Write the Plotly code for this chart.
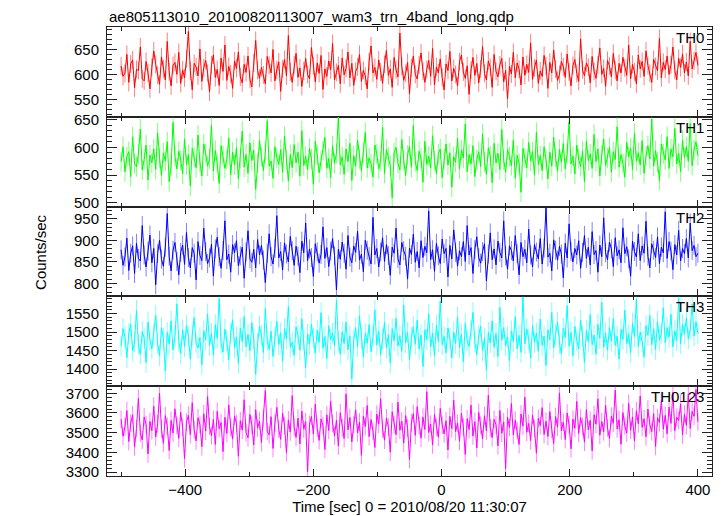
import plotly.graph_objects as go
from plotly.subplots import make_subplots

title_text = "ae805113010_20100820113007_wam3_trn_4band_long.qdp"
x_title = "Time [sec] 0 = 2010/08/20 11:30:07"
y_title = "Counts/sec"
band_names = ["TH0", "TH1", "TH2", "TH3", "TH0123"]
t_start = -500
t_end = 400

th0 = [618, 597, 603, 641, 585, 622, 630, 574, 611, 609, 656, 592, 588, 627, 604,
       572, 615, 648, 621, 599, 581, 636, 612, 590, 667, 606, 578, 619, 625, 601,
       645, 583, 610, 594, 632, 687, 608, 570, 623, 616, 598, 652, 587, 614, 629,
       603, 566, 620, 640, 595, 611, 579, 634, 607, 660, 589, 617, 602, 573, 628,
       613, 646, 596, 584, 621, 605, 638, 591, 576, 624, 669, 609, 593, 615, 600,
       582, 637, 619, 604, 651, 588, 610, 626, 567, 612, 631, 598, 679, 606, 585,
       620, 643, 595, 614, 577, 608, 633, 601, 592, 655, 618, 586, 624, 603, 639,
       571, 612, 597, 628, 610, 663, 590, 605, 619, 582, 634, 600, 613, 646, 594,
       623, 579, 607, 616, 641, 587, 609, 598, 572, 627, 658, 604, 615, 591, 630,
       606, 583, 621, 649, 599, 612, 575, 635, 610, 596, 684, 617, 589, 603, 625,
       562, 614, 638, 601, 592, 620, 644, 607, 585, 611, 629, 597, 653, 580, 616,
       604, 632, 595, 570, 622, 609, 647, 588, 613, 601, 578, 626, 640, 606, 593,
       618, 561, 610, 635, 599, 623, 584, 612, 657, 603, 590, 628, 615, 575, 641,
       607, 596, 620, 633, 586, 609, 552, 617, 602, 645, 594, 624, 611, 580, 636,
       599, 621, 605, 664, 591, 614, 630, 583, 608, 597, 639, 618, 573, 625, 604,
       650, 612, 589, 601, 627, 616, 595, 642, 606, 578, 619, 631, 603, 587, 672,
       610, 598, 624, 615, 584, 637, 607, 593, 620, 654, 601, 613, 577, 629, 618,
       596, 643, 609, 588, 623, 604, 635, 614, 599, 660, 592, 621, 606, 582, 640,
       612, 627, 597, 648, 619, 603, 585, 631, 617, 608, 673, 594, 625, 611, 638,
       601, 620, 656, 609, 590, 633, 615, 642, 604, 626, 598, 667, 612, 628, 645,
       619]

th1 = [574, 601, 556, 583, 592, 547, 619, 570, 565, 588, 633, 559, 578, 604, 541,
       586, 572, 597, 560, 626, 581, 549, 590, 575, 610, 538, 567, 645, 584, 561,
       593, 577, 552, 615, 569, 587, 530, 598, 582, 563, 622, 573, 548, 606, 589,
       566, 579, 640, 557, 594, 571, 535, 603, 585, 562, 578, 617, 550, 591, 568,
       599, 543, 580, 629, 564, 587, 553, 608, 576, 595, 524, 571, 612, 583, 558,
       590, 648, 566, 575, 544, 601, 581, 569, 596, 555, 620, 578, 539, 587, 563,
       605, 572, 591, 548, 630, 567, 584, 560, 598, 579, 533, 611, 586, 554, 576,
       594, 618, 562, 580, 545, 603, 571, 589, 655, 568, 583, 551, 597, 574, 607,
       540, 585, 566, 613, 579, 557, 592, 627, 563, 581, 570, 546, 604, 588, 561,
       575, 636, 553, 596, 582, 567, 509, 590, 600, 571, 559, 614, 577, 549, 586,
       602, 564, 639, 574, 558, 593, 580, 537, 611, 569, 584, 563, 621, 576, 552,
       588, 597, 545, 579, 606, 568, 590, 528, 583, 573, 616, 561, 595, 581, 642,
       556, 587, 570, 603, 547, 578, 592, 565, 624, 574, 551, 599, 584, 536, 607,
       572, 589, 560, 632, 577, 555, 596, 583, 567, 613, 544, 586, 571, 519, 598,
       580, 563, 609, 575, 592, 550, 627, 569, 585, 558, 601, 578, 543, 591, 566,
       618, 582, 557, 596, 573, 607, 561, 589, 646, 570, 584, 552, 604, 579, 565,
       593, 538, 611, 576, 588, 562, 623, 574, 597, 548, 586, 615, 567, 581, 600,
       555, 592, 578, 637, 564, 587, 571, 546, 609, 583, 598, 560, 625, 575, 590,
       568, 612, 553, 584, 603, 579, 651, 566, 594, 573, 540, 606, 588, 577, 619,
       562, 597, 583, 634, 570, 589, 556, 613, 581, 601, 575, 643, 567, 596, 610,
       585]

th2 = [878, 842, 861, 905, 830, 870, 887, 823, 893, 858, 852, 934, 866, 838, 875,
       912, 848, 881, 797, 869, 900, 856, 840, 884, 962, 863, 829, 877, 895, 851,
       820, 872, 889, 844, 918, 860, 836, 883, 870, 808, 897, 865, 853, 928, 874,
       846, 859, 891, 817, 880, 907, 862, 835, 876, 945, 855, 868, 826, 890, 871,
       899, 841, 864, 884, 812, 873, 922, 857, 849, 879, 836, 902, 866, 888, 854,
       802, 870, 915, 862, 845, 881, 957, 859, 874, 831, 894, 868, 850, 909, 876,
       842, 886, 863, 825, 898, 871, 940, 853, 880, 860, 816, 892, 873, 847, 867,
       931, 858, 883, 839, 875, 904, 864, 785, 879, 856, 896, 870, 833, 911, 861,
       848, 887, 872, 921, 854, 868, 827, 900, 877, 862, 845, 953, 866, 881, 838,
       873, 906, 851, 890, 865, 819, 884, 870, 928, 857, 843, 895, 876, 863, 810,
       882, 867, 914, 849, 874, 836, 899, 860, 886, 871, 968, 855, 878, 828, 893,
       864, 846, 903, 869, 881, 815, 888, 857, 924, 872, 840, 876, 862, 897, 851,
       934, 866, 883, 823, 879, 908, 860, 847, 874, 892, 806, 868, 917, 855, 880,
       843, 898, 872, 859, 945, 864, 833, 887, 876, 852, 911, 869, 820, 895, 862,
       879, 848, 926, 866, 838, 890, 873, 857, 904, 845, 882, 975, 861, 870, 829,
       901, 877, 854, 886, 868, 813, 893, 859, 938, 874, 850, 881, 866, 899, 835,
       872, 911, 858, 884, 843, 920, 867, 876, 826, 889, 862, 952, 871, 855, 896,
       880, 839, 906, 864, 878, 848, 929, 869, 885, 857, 817, 898, 874, 861, 915,
       853, 887, 870, 944, 863, 836, 892, 877, 860, 908, 846, 884, 871, 966, 858,
       897, 875, 832, 890, 866, 923, 852, 881, 869, 904, 859, 940, 876, 888, 862,
       870]

th3 = [1462, 1509, 1487, 1431, 1496, 1521, 1449, 1473, 1558, 1466, 1440, 1501, 1484, 1418, 1527,
       1478, 1455, 1493, 1545, 1470, 1436, 1512, 1482, 1395, 1499, 1468, 1530, 1452, 1489, 1576,
       1475, 1442, 1506, 1461, 1518, 1488, 1427, 1492, 1539, 1471, 1457, 1485, 1412, 1503, 1479,
       1549, 1464, 1496, 1438, 1520, 1483, 1590, 1469, 1446, 1508, 1476, 1425, 1497, 1533, 1458,
       1487, 1415, 1511, 1474, 1542, 1460, 1494, 1449, 1525, 1481, 1386, 1470, 1516, 1491, 1445,
       1563, 1477, 1453, 1502, 1434, 1486, 1529, 1466, 1498, 1421, 1509, 1482, 1569, 1459, 1473,
       1437, 1514, 1490, 1451, 1536, 1478, 1404, 1495, 1467, 1521, 1484, 1443, 1505, 1472, 1552,
       1456, 1488, 1428, 1517, 1480, 1497, 1463, 1586, 1475, 1440, 1501, 1469, 1527, 1452, 1490,
       1373, 1478, 1512, 1461, 1544, 1483, 1433, 1496, 1470, 1520, 1447, 1488, 1559, 1465, 1502,
       1439, 1481, 1526, 1457, 1493, 1416, 1509, 1476, 1537, 1462, 1490, 1448, 1573, 1471, 1499,
       1426, 1485, 1514, 1467, 1532, 1454, 1492, 1407, 1506, 1479, 1548, 1460, 1497, 1436, 1519,
       1474, 1583, 1466, 1488, 1444, 1511, 1482, 1430, 1500, 1469, 1540, 1457, 1494, 1420, 1523,
       1477, 1461, 1505, 1553, 1473, 1439, 1491, 1516, 1450, 1484, 1397, 1499, 1471, 1530, 1459,
       1496, 1434, 1566, 1478, 1512, 1463, 1487, 1422, 1503, 1475, 1541, 1455, 1491, 1445, 1595,
       1468, 1508, 1481, 1429, 1518, 1472, 1497, 1448, 1535, 1464, 1489, 1410, 1506, 1479, 1553,
       1457, 1493, 1527, 1470, 1441, 1510, 1485, 1571, 1462, 1499, 1436, 1515, 1477, 1454, 1532,
       1488, 1418, 1504, 1473, 1547, 1466, 1492, 1440, 1521, 1483, 1580, 1459, 1498, 1451, 1513,
       1476, 1536, 1464, 1489, 1427, 1507, 1480, 1559, 1469, 1495, 1445, 1524, 1487, 1588, 1461,
       1500, 1474, 1432, 1517, 1491, 1544, 1466, 1509, 1453, 1529, 1478, 1497, 1565, 1471, 1512,
       1486, 1548, 1460, 1503, 1477, 1591, 1469, 1520, 1494, 1538, 1482, 1507, 1575, 1489, 1528,
       1496]

th0123 = [3568, 3482, 3530, 3612, 3455, 3549, 3591, 3428, 3521, 3675, 3497, 3463, 3580, 3540, 3392,
          3557, 3510, 3634, 3478, 3545, 3700, 3519, 3446, 3587, 3533, 3410, 3562, 3498, 3621, 3537,
          3471, 3604, 3526, 3368, 3553, 3589, 3490, 3652, 3515, 3458, 3576, 3541, 3429, 3596, 3508,
          3683, 3532, 3485, 3567, 3440, 3609, 3520, 3551, 3404, 3578, 3496, 3641, 3527, 3467, 3585,
          3546, 3380, 3561, 3513, 3667, 3501, 3474, 3593, 3538, 3437, 3617, 3524, 3559, 3450, 3572,
          3714, 3506, 3489, 3581, 3420, 3548, 3629, 3517, 3466, 3599, 3535, 3398, 3565, 3503, 3688,
          3529, 3476, 3574, 3443, 3610, 3518, 3556, 3302, 3542, 3582, 3493, 3645, 3522, 3461, 3570,
          3536, 3415, 3590, 3511, 3660, 3547, 3484, 3563, 3432, 3601, 3525, 3470, 3697, 3514, 3577,
          3453, 3539, 3616, 3499, 3554, 3385, 3584, 3531, 3638, 3480, 3566, 3508, 3425, 3594, 3543,
          3672, 3519, 3462, 3575, 3528, 3401, 3606, 3541, 3490, 3655, 3512, 3558, 3447, 3587, 3523,
          3364, 3550, 3597, 3486, 3632, 3534, 3472, 3579, 3516, 3708, 3501, 3544, 3438, 3592, 3527,
          3477, 3623, 3538, 3494, 3561, 3412, 3583, 3520, 3665, 3505, 3549, 3457, 3598, 3530, 3389,
          3571, 3515, 3640, 3483, 3556, 3422, 3603, 3537, 3468, 3586, 3509, 3690, 3524, 3475, 3568,
          3540, 3433, 3613, 3497, 3555, 3318, 3578, 3526, 3648, 3488, 3563, 3511, 3440, 3595, 3533,
          3680, 3502, 3547, 3459, 3589, 3521, 3396, 3573, 3536, 3627, 3491, 3558, 3480, 3607, 3517,
          3445, 3582, 3528, 3702, 3509, 3553, 3465, 3600, 3539, 3418, 3569, 3522, 3659, 3496, 3576,
          3532, 3452, 3618, 3514, 3563, 3408, 3591, 3543, 3672, 3487, 3557, 3504, 3639, 3525, 3470,
          3584, 3548, 3716, 3519, 3566, 3441, 3602, 3534, 3498, 3649, 3512, 3580, 3458, 3611, 3545,
          3686, 3527, 3571, 3479, 3620, 3540, 3505, 3597, 3430, 3576, 3552, 3663, 3518, 3588, 3494,
          3630, 3547, 3705, 3510, 3578, 3562, 3646, 3489, 3594, 3537, 3695, 3521, 3608, 3583, 3719,
          3556]

series = [th0, th1, th2, th3, th0123]
colors = ["#ff0000", "#00ff00", "#0000ff", "#00ffff", "#ff00ff"]
err_colors = ["rgba(255,0,0,0.5)", "rgba(0,255,0,0.5)", "rgba(0,0,255,0.5)",
              "rgba(0,255,255,0.5)", "rgba(255,0,255,0.5)"]
err_sizes = [18, 18, 22, 28, 45]
y_ranges = [[516, 696], [493, 655], [770, 978], [1354, 1596], [3280, 3736]]
y_dticks = [50, 50, 50, 50, 100]
y_minor = [10, 10, 10, 10, 20]

FONT = "Liberation Sans, Arial, Helvetica, sans-serif"
AX = "#222222"

fig = make_subplots(rows=5, cols=1, shared_xaxes=False, vertical_spacing=0)

for i, vals in enumerate(series):
    n = len(vals)
    t = [t_start + (t_end - t_start) * k / (n - 1) for k in range(n)]
    fig.add_trace(go.Scatter(
        x=t, y=vals, mode="lines",
        line=dict(color=colors[i], width=1),
        error_y=dict(type="constant", value=err_sizes[i], color=err_colors[i],
                     thickness=1, width=0),
        showlegend=False, hoverinfo="skip"), row=i + 1, col=1)

for i in range(5):
    fig.update_xaxes(range=[-522, 422], showline=True, linecolor=AX, linewidth=1,
                     mirror="allticks", ticks="inside", ticklen=7, tickcolor=AX,
                     tickmode="linear", dtick=200, tick0=0, showgrid=False, zeroline=False,
                     showticklabels=(i == 4),
                     tickfont=dict(family=FONT, size=15, color="black"),
                     minor=dict(tickmode="linear", dtick=100, tick0=0, ticklen=4,
                                ticks="inside", tickcolor=AX, showgrid=False),
                     row=i + 1, col=1)
    fig.update_yaxes(range=y_ranges[i], tickmode="linear", dtick=y_dticks[i], tick0=0,
                     showline=True, linecolor=AX, linewidth=1, mirror="allticks",
                     ticks="inside", ticklen=10, tickcolor=AX, showgrid=False, zeroline=False,
                     ticklabelstandoff=4,
                     tickfont=dict(family=FONT, size=15, color="black"),
                     minor=dict(tickmode="linear", dtick=y_minor[i], tick0=0, ticklen=5,
                                ticks="inside", tickcolor=AX, showgrid=False),
                     row=i + 1, col=1)
    yref = "y domain" if i == 0 else f"y{i + 1} domain"
    xref = "x domain" if i == 0 else f"x{i + 1} domain"
    fig.add_annotation(text=band_names[i], xref=xref, yref=yref, x=0.99, y=1.0,
                       xanchor="right", yanchor="top", showarrow=False,
                       font=dict(family=FONT, size=15, color="black"))

fig.update_xaxes(title=dict(text=x_title, font=dict(family=FONT, size=15, color="black"),
                            standoff=2), row=5, col=1)

fig.add_annotation(text=y_title, xref="paper", yref="paper", x=-0.11, y=0.5,
                   textangle=-90, showarrow=False, xanchor="center", yanchor="middle",
                   font=dict(family=FONT, size=15, color="black"))
fig.add_annotation(text=title_text, xref="paper", yref="paper", x=0, y=1,
                   xanchor="left", yanchor="bottom", yshift=0, showarrow=False,
                   font=dict(family=FONT, size=15, color="black"))

fig.update_layout(width=723, height=516, margin=dict(l=99, r=19, t=19, b=48),
                  paper_bgcolor="white", plot_bgcolor="white")

fig.write_html("out.html")
